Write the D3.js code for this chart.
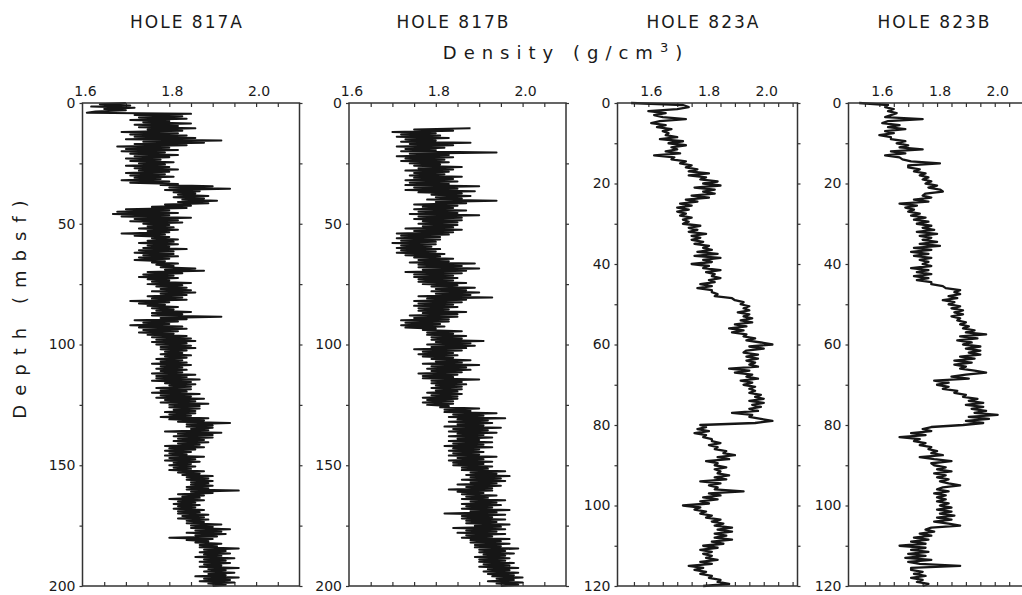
<!DOCTYPE html>
<html>
<head>
<meta charset="utf-8">
<script src="https://cdn.jsdelivr.net/npm/d3@7"></script>
<style>
  body { margin: 0; background: #fff; }
  text { font-family: "DejaVu Sans", sans-serif; fill: #1a1a1a; }
</style>
</head>
<body>
<div id="chart"></div>
<script>
// hole titles and axis labels
const holeNames = ["HOLE 817A", "HOLE 817B", "HOLE 823A", "HOLE 823B"];
const densityLabels = [1.6, 1.8, 2.0];
const densityMinor817 = [1.65, 1.7, 1.75, 1.8, 1.85, 1.9, 1.95, 2.0, 2.05];
const densityMinor823 = [1.55, 1.6, 1.65, 1.7, 1.75, 1.8, 1.85, 1.9, 1.95, 2.0, 2.05, 2.1];
const depthLabels817 = [0, 50, 100, 150, 200];
const depthMinor817 = [25, 75, 125, 175];
const depthLabels823 = [0, 20, 40, 60, 80, 100, 120];
const depthMinor823 = [10, 30, 50, 70, 90, 110];

// density logs, one value every 0.5 m
const depthStep = 0.5;
const top817A = 0;
const dens817A = [
  1.70,1.64,1.71,1.62, 1.72,1.65,1.70,1.63, 1.61,1.85,1.72,1.83, 1.73,1.84,1.71,1.80,
  1.74,1.85,1.72,1.82, 1.73,1.86,1.75,1.83, 1.69,1.82,1.71,1.84, 1.72,1.86,1.70,1.92,
  1.74,1.88,1.72,1.84, 1.68,1.80,1.70,1.82, 1.69,1.79,1.71,1.82, 1.72,1.80,1.70,1.78,
  1.71,1.81,1.73,1.79, 1.70,1.80,1.72,1.82, 1.73,1.80,1.70,1.79, 1.71,1.81,1.72,1.78,
  1.69,1.80,1.71,1.82, 1.78,1.90,1.80,1.94, 1.79,1.87,1.81,1.86, 1.82,1.89,1.81,1.88,
  1.83,1.91,1.82,1.89, 1.79,1.85,1.76,1.84, 1.70,1.80,1.68,1.82, 1.67,1.80,1.69,1.85,
  1.72,1.82,1.71,1.83, 1.74,1.80,1.75,1.81, 1.73,1.82,1.75,1.80, 1.69,1.79,1.72,1.80,
  1.76,1.82,1.75,1.81, 1.73,1.82,1.75,1.80, 1.74,1.84,1.73,1.81, 1.72,1.81,1.74,1.82,
  1.73,1.80,1.72,1.79, 1.76,1.82,1.77,1.81, 1.78,1.86,1.79,1.88, 1.75,1.83,1.74,1.81,
  1.73,1.82,1.75,1.80, 1.76,1.85,1.75,1.83, 1.77,1.84,1.78,1.85, 1.76,1.86,1.78,1.84,
  1.75,1.83,1.76,1.84, 1.71,1.80,1.73,1.79, 1.75,1.82,1.76,1.81, 1.77,1.85,1.76,1.83,
  1.76,1.92,1.78,1.84, 1.72,1.82,1.74,1.80, 1.71,1.83,1.73,1.84, 1.74,1.82,1.73,1.81,
  1.75,1.84,1.76,1.85, 1.77,1.86,1.76,1.84, 1.77,1.85,1.78,1.86, 1.78,1.84,1.79,1.83,
  1.78,1.85,1.79,1.84, 1.77,1.83,1.78,1.84, 1.76,1.85,1.78,1.83, 1.77,1.84,1.78,1.83,
  1.76,1.86,1.77,1.84, 1.77,1.87,1.76,1.85, 1.79,1.86,1.80,1.85, 1.77,1.85,1.78,1.84,
  1.76,1.87,1.78,1.85, 1.77,1.88,1.79,1.86, 1.78,1.89,1.80,1.87, 1.80,1.87,1.81,1.86,
  1.79,1.86,1.80,1.85, 1.78,1.89,1.80,1.88, 1.82,1.94,1.84,1.90, 1.84,1.90,1.85,1.89,
  1.79,1.92,1.82,1.90, 1.81,1.90,1.82,1.88, 1.81,1.89,1.82,1.87, 1.79,1.88,1.80,1.86,
  1.79,1.85,1.80,1.84, 1.79,1.88,1.80,1.86, 1.79,1.87,1.81,1.85, 1.80,1.86,1.81,1.85,
  1.80,1.88,1.82,1.87, 1.83,1.90,1.84,1.89, 1.84,1.90,1.85,1.89, 1.85,1.90,1.84,1.89,
  1.84,1.96,1.85,1.90, 1.82,1.88,1.83,1.87, 1.80,1.88,1.82,1.86, 1.81,1.87,1.82,1.86,
  1.81,1.88,1.82,1.87, 1.82,1.89,1.83,1.88, 1.82,1.89,1.84,1.88, 1.84,1.92,1.85,1.90,
  1.85,1.94,1.86,1.92, 1.84,1.93,1.86,1.91, 1.80,1.90,1.84,1.89, 1.86,1.92,1.87,1.91,
  1.87,1.96,1.88,1.93, 1.87,1.94,1.88,1.92, 1.86,1.95,1.88,1.93, 1.87,1.94,1.88,1.92,
  1.87,1.96,1.89,1.93, 1.88,1.95,1.89,1.93, 1.86,1.96,1.88,1.94, 1.87,1.95,1.89,1.93,
  1.90
];

const top817B = 10.5;
const dens817B = [
  1.88,1.75,1.84,
  1.70,1.80,1.72,1.81, 1.71,1.83,1.73,1.80, 1.72,1.88,1.74,1.84, 1.71,1.82,1.73,1.80,
  1.72,1.94,1.74,1.83, 1.71,1.84,1.73,1.82, 1.72,1.83,1.74,1.81, 1.75,1.86,1.76,1.84,
  1.73,1.83,1.75,1.82, 1.74,1.86,1.75,1.84, 1.73,1.85,1.74,1.83, 1.73,1.90,1.75,1.85,
  1.73,1.89,1.76,1.86, 1.79,1.88,1.80,1.86, 1.78,1.94,1.80,1.87, 1.75,1.85,1.77,1.84,
  1.75,1.87,1.76,1.85, 1.74,1.90,1.76,1.86, 1.75,1.86,1.77,1.85, 1.76,1.85,1.77,1.84,
  1.73,1.86,1.75,1.84, 1.71,1.83,1.72,1.81, 1.71,1.81,1.72,1.80, 1.70,1.80,1.72,1.79,
  1.71,1.81,1.72,1.80, 1.71,1.82,1.73,1.81, 1.75,1.84,1.76,1.83, 1.74,1.89,1.76,1.86,
  1.76,1.90,1.77,1.87, 1.73,1.86,1.75,1.84, 1.75,1.85,1.76,1.84, 1.76,1.87,1.77,1.85,
  1.79,1.89,1.80,1.87, 1.79,1.90,1.80,1.88, 1.76,1.93,1.78,1.87, 1.75,1.86,1.76,1.84,
  1.75,1.85,1.76,1.83, 1.76,1.87,1.77,1.85, 1.74,1.85,1.75,1.83, 1.72,1.83,1.73,1.81,
  1.72,1.82,1.73,1.80, 1.77,1.86,1.78,1.84, 1.78,1.87,1.79,1.86, 1.79,1.91,1.80,1.88,
  1.78,1.89,1.79,1.87, 1.75,1.86,1.77,1.84, 1.76,1.85,1.77,1.84, 1.79,1.88,1.80,1.86,
  1.77,1.90,1.79,1.87, 1.78,1.88,1.79,1.86, 1.76,1.85,1.77,1.84, 1.77,1.90,1.79,1.86,
  1.79,1.87,1.80,1.86, 1.79,1.86,1.80,1.85, 1.78,1.86,1.79,1.85, 1.77,1.85,1.78,1.84,
  1.77,1.84,1.78,1.83, 1.81,1.90,1.82,1.88, 1.82,1.94,1.84,1.91, 1.83,1.96,1.85,1.92,
  1.83,1.93,1.85,1.91, 1.82,1.95,1.84,1.92, 1.83,1.94,1.85,1.91, 1.83,1.93,1.85,1.90,
  1.83,1.93,1.84,1.91, 1.82,1.93,1.84,1.90, 1.83,1.91,1.84,1.90, 1.83,1.94,1.85,1.91,
  1.83,1.93,1.84,1.91, 1.84,1.93,1.86,1.92, 1.86,1.96,1.88,1.94, 1.87,1.97,1.88,1.95,
  1.86,1.96,1.88,1.94, 1.85,1.95,1.87,1.93, 1.83,1.93,1.85,1.91, 1.86,1.94,1.87,1.92,
  1.86,1.96,1.88,1.94, 1.86,1.95,1.87,1.93, 1.86,1.97,1.88,1.94, 1.82,1.96,1.86,1.93,
  1.86,1.96,1.87,1.94, 1.87,1.97,1.89,1.95, 1.84,1.96,1.87,1.94, 1.85,1.96,1.87,1.93,
  1.86,1.97,1.88,1.95, 1.88,1.97,1.89,1.95, 1.89,1.99,1.90,1.96, 1.90,1.98,1.91,1.96,
  1.89,1.97,1.90,1.96, 1.90,1.98,1.91,1.97, 1.90,1.99,1.92,1.97, 1.91,1.99,1.92,1.98,
  1.93,2.00,1.94,1.98, 1.92,2.00,1.94,1.99,
  1.95
];

const top823A = 0;
const dens823A = [
  1.54,1.72, 1.74,1.70, 1.60,1.66, 1.62,1.65, 1.73,1.64, 1.61,1.66, 1.63,1.68, 1.65,1.67,
  1.66,1.70, 1.64,1.72, 1.67,1.73, 1.68,1.70, 1.66,1.71, 1.62,1.69, 1.68,1.73, 1.71,1.75,
  1.73,1.77, 1.74,1.81, 1.74,1.80, 1.78,1.84, 1.79,1.85, 1.76,1.83, 1.79,1.83, 1.75,1.81,
  1.73,1.77, 1.71,1.75, 1.70,1.74, 1.70,1.73, 1.71,1.75, 1.72,1.74, 1.72,1.78, 1.74,1.77,
  1.74,1.80, 1.75,1.78, 1.75,1.79, 1.76,1.81, 1.79,1.82, 1.77,1.84, 1.76,1.85, 1.79,1.82,
  1.75,1.81, 1.79,1.85, 1.80,1.83, 1.82,1.85, 1.81,1.83, 1.78,1.82, 1.77,1.82, 1.82,1.84,
  1.83,1.89, 1.90,1.93, 1.92,1.95, 1.93,1.95, 1.91,1.95, 1.93,1.96, 1.92,1.96, 1.90,1.94,
  1.88,1.93, 1.89,1.94, 1.93,1.97, 1.94,1.99, 2.03,1.95, 2.00,1.94, 1.93,1.98, 1.94,1.98,
  1.94,1.97, 1.95,1.98, 1.88,1.95, 1.90,1.96, 1.94,1.98, 1.92,1.96, 1.93,1.97, 1.95,1.97,
  1.95,1.99, 1.97,2.00, 1.95,2.00, 1.96,1.99, 1.95,1.98, 1.89,1.96, 1.95,1.99, 2.03,1.97,
  1.78,1.80, 1.77,1.81, 1.76,1.80, 1.79,1.82, 1.82,1.85, 1.81,1.84, 1.83,1.87, 1.86,1.90,
  1.84,1.88, 1.80,1.84, 1.83,1.87, 1.83,1.85, 1.84,1.88, 1.83,1.87, 1.78,1.85, 1.81,1.84,
  1.83,1.93, 1.81,1.85, 1.79,1.84, 1.78,1.81, 1.72,1.78, 1.76,1.80, 1.78,1.82, 1.80,1.85,
  1.82,1.86, 1.83,1.89, 1.84,1.89, 1.83,1.87, 1.83,1.89, 1.82,1.86, 1.79,1.84, 1.78,1.82,
  1.79,1.82, 1.80,1.84, 1.78,1.82, 1.74,1.79, 1.76,1.80, 1.78,1.82, 1.81,1.85, 1.84,1.88,
  1.79
];

const top823B = 0;
const dens823B = [
  1.53,1.63, 1.62,1.65, 1.63,1.66, 1.64,1.62, 1.75,1.63, 1.61,1.67, 1.63,1.69, 1.62,1.65,
  1.60,1.64, 1.64,1.69, 1.66,1.70, 1.67,1.75, 1.64,1.69, 1.62,1.67, 1.68,1.71, 1.81,1.70,
  1.70,1.74, 1.72,1.76, 1.74,1.77, 1.75,1.78, 1.76,1.80, 1.77,1.81, 1.82,1.76, 1.75,1.78,
  1.72,1.77, 1.67,1.73, 1.69,1.72, 1.70,1.74, 1.71,1.76, 1.72,1.77, 1.73,1.78, 1.75,1.79,
  1.73,1.80, 1.74,1.78, 1.75,1.80, 1.74,1.81, 1.72,1.78, 1.71,1.77, 1.72,1.78, 1.74,1.77,
  1.75,1.78, 1.71,1.77, 1.73,1.78, 1.72,1.77, 1.73,1.78, 1.78,1.82, 1.83,1.88, 1.86,1.88,
  1.84,1.87, 1.82,1.86, 1.84,1.88, 1.85,1.89, 1.86,1.89, 1.85,1.88, 1.87,1.90, 1.88,1.91,
  1.89,1.93, 1.90,1.97, 1.88,1.94, 1.87,1.92, 1.89,1.95, 1.90,1.95, 1.91,1.95, 1.88,1.93,
  1.86,1.92, 1.86,1.90, 1.88,1.93, 1.97,1.90, 1.85,1.91, 1.79,1.84, 1.80,1.84, 1.82,1.87,
  1.86,1.90, 1.89,1.94, 1.91,1.96, 1.90,1.96, 1.92,1.97, 1.93,2.01, 1.91,1.98, 1.90,1.96,
  1.89,1.78, 1.75,1.78, 1.71,1.76, 1.67,1.74, 1.72,1.76, 1.74,1.78, 1.77,1.80, 1.78,1.82,
  1.74,1.79, 1.85,1.78, 1.79,1.83, 1.80,1.85, 1.79,1.83, 1.80,1.84, 1.81,1.84, 1.88,1.82,
  1.80,1.84, 1.79,1.83, 1.80,1.83, 1.80,1.84, 1.81,1.85, 1.80,1.85, 1.81,1.86, 1.80,1.85,
  1.79,1.84, 1.88,1.78, 1.76,1.79, 1.74,1.78, 1.72,1.77, 1.71,1.76, 1.67,1.76, 1.71,1.77,
  1.70,1.76, 1.69,1.78, 1.70,1.74, 1.88,1.71, 1.71,1.75, 1.72,1.76, 1.71,1.75, 1.73,1.77,
  1.75
];

const width = 1022, height = 595;
const frameTop = 103, frameBottom = 586;

const panels = [
  { name: holeNames[0], top: top817A, values: dens817A, left: 82.5, right: 299.5, xDomain: [1.6, 2.1],
    yMax: 200, minor: densityMinor817, depthLabels: depthLabels817, depthMinor: depthMinor817, lw: 2.0 },
  { name: holeNames[1], top: top817B, values: dens817B, left: 349, right: 566, xDomain: [1.6, 2.1],
    yMax: 200, minor: densityMinor817, depthLabels: depthLabels817, depthMinor: depthMinor817, lw: 2.0 },
  { name: holeNames[2], top: top823A, values: dens823A, left: 617.5, right: 797.5, xDomain: [1.493, 2.117],
    yMax: 120, minor: densityMinor823, depthLabels: depthLabels823, depthMinor: depthMinor823, lw: 2.3 },
  { name: holeNames[3], top: top823B, values: dens823B, left: 848.5, right: 1028.5, xDomain: [1.493, 2.117],
    yMax: 120, minor: densityMinor823, depthLabels: depthLabels823, depthMinor: depthMinor823, lw: 2.3 }
];

const svg = d3.select("#chart")
  .append("svg")
  .attr("width", width)
  .attr("height", height);

panels.forEach((p) => {
  let x = d3.scaleLinear().domain(p.xDomain).range([p.left, p.right]);
  let y = d3.scaleLinear().domain([0, p.yMax]).range([frameTop, frameBottom]);
  let g = svg.append("g");

  // title over the panel
  g.append("text")
    .attr("x", (p.left + p.right) / 2 - 4)
    .attr("y", 28)
    .attr("text-anchor", "middle")
    .style("font-size", "17px")
    .style("letter-spacing", "2px")
    .text(p.name);

  // density ticks, pointing inward at top and bottom
  g.append("g")
    .attr("transform", "translate(0," + frameTop + ")")
    .call(d3.axisTop(x).tickValues(p.minor).tickSize(-4).tickFormat(""))
    .call(a => a.select(".domain").remove());
  g.append("g")
    .attr("transform", "translate(0," + frameBottom + ")")
    .call(d3.axisBottom(x).tickValues(p.minor).tickSize(-4).tickFormat(""))
    .call(a => a.select(".domain").remove());

  g.selectAll(".dlabel")
    .data(densityLabels)
    .enter()
    .append("text")
    .attr("x", d => x(d) + 3)
    .attr("y", 96)
    .attr("text-anchor", "middle")
    .style("font-size", "14px")
    .text(d => d.toFixed(1));

  // depth ticks, pointing outward on both sides
  let allDepth = p.depthLabels.concat(p.depthMinor);
  g.append("g")
    .attr("transform", "translate(" + p.left + ",0)")
    .call(d3.axisLeft(y).tickValues(allDepth).tickSize(3).tickFormat(""))
    .call(a => a.select(".domain").remove());
  g.append("g")
    .attr("transform", "translate(" + p.right + ",0)")
    .call(d3.axisRight(y).tickValues(allDepth).tickSize(3).tickFormat(""))
    .call(a => a.select(".domain").remove());

  g.append("g")
    .attr("transform", "translate(" + p.left + ",0)")
    .call(d3.axisLeft(y).tickValues(p.depthLabels).tickSize(0).tickPadding(7).tickFormat(d3.format("d")))
    .call(a => a.select(".domain").remove())
    .selectAll("text")
    .style("font-size", "14px")
    .style("font-family", "'DejaVu Sans', sans-serif")
    .style("fill", "#1a1a1a");

  g.selectAll(".tick line").attr("stroke", "#333").attr("stroke-width", 1.2);

  // density log
  let points = p.values.map((v, i) => ({ depth: p.top + i * depthStep, v: v }));
  let line = d3.line()
    .x(d => x(d.v))
    .y(d => y(d.depth));
  g.append("path")
    .datum(points)
    .attr("d", line)
    .attr("fill", "none")
    .attr("stroke", "#161616")
    .attr("stroke-width", p.lw)
    .attr("stroke-linejoin", "round");

  // frame
  g.append("rect")
    .attr("x", p.left)
    .attr("y", frameTop)
    .attr("width", p.right - p.left)
    .attr("height", frameBottom - frameTop)
    .attr("fill", "none")
    .attr("stroke", "#333")
    .attr("stroke-width", 1.5);
});

// shared axis titles
let dens = svg.append("text")
  .attr("x", 566)
  .attr("y", 59)
  .attr("text-anchor", "middle")
  .style("font-size", "18px")
  .style("letter-spacing", "7px");
dens.append("tspan").text("Density (g/cm");
dens.append("tspan").attr("dy", -7).style("font-size", "13px").text("3");
dens.append("tspan").attr("dy", 7).text(")");

svg.append("text")
  .attr("transform", "translate(26,305) rotate(-90)")
  .attr("text-anchor", "middle")
  .style("font-size", "18px")
  .style("letter-spacing", "9px")
  .text("Depth (mbsf)");
</script>
</body>
</html>
